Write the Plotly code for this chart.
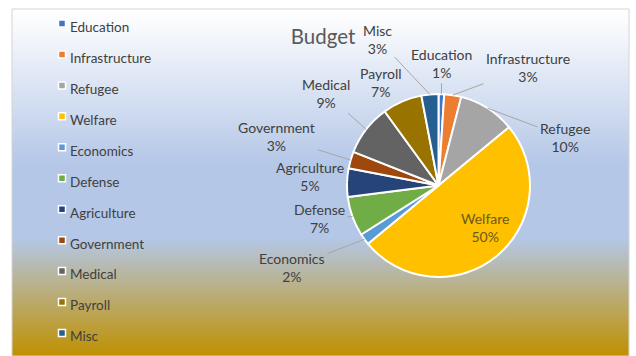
import math
import plotly.graph_objects as go

# Budget shares by department (percent of total)
categories = ["Education", "Infrastructure", "Refugee", "Welfare", "Economics",
              "Defense", "Agriculture", "Government", "Medical", "Payroll", "Misc"]
shares = [1, 3, 10, 50, 2, 7, 5, 3, 9, 7, 3]
slice_colors = ["#4472C4", "#ED7D31", "#A5A5A5", "#FFC000", "#5B9BD5", "#70AD47",
                "#264478", "#9E480E", "#636363", "#997300", "#255E91"]

W, H = 636, 356
FONT = "Lato"
TEXT_GREY = "#404040"

# pie placement in pixels (from top-left of the page)
cx, cy, r = 438.5, 185.5, 91.5

# data-label placement: pixel offset of each label from its slice's rim point
label_offsets = {
    "Education": (0.6, -31), "Infrastructure": (75, -28), "Refugee": (77.5, 29),
    "Economics": (-72.5, 28), "Defense": (-33, 2.5), "Agriculture": (-37, -6.6),
    "Government": (-74, -23), "Medical": (-40, -36), "Payroll": (-21, -19.5),
    "Misc": (-52, -55),
}
inside_labels = {"Welfare": (10, -2)}

# legend entries keep 13.5px text while the legend font sets the row pitch
legend_labels = [f'<span style="font-size:13.5px">{c}</span>' for c in categories]

fig = go.Figure()

# chart-area background: vertical white -> blue -> gold gradient
fig.add_trace(go.Scatter(
    x=[12, 629, 629, 12, 12], y=[9, 9, H, H, 9],
    mode="lines", fill="toself",
    line=dict(color="#d4d4d4", width=1),
    fillgradient=dict(type="vertical", start=9, stop=H,
                      colorscale=[[0.0, "#ffffff"], [0.04, "#fafbfd"],
                                  [0.45, "#b4c7e7"], [0.66, "#b4c7e7"],
                                  [1.0, "#bf9000"]]),
    hoverinfo="skip", showlegend=False,
))

fig.add_trace(go.Pie(
    labels=legend_labels,
    values=shares,
    text=categories,
    sort=False,
    direction="clockwise",
    rotation=0,
    marker=dict(colors=slice_colors, line=dict(color="#ffffff", width=2)),
    textinfo="none",
    hovertemplate="%{text}: %{value}%<extra></extra>",
    domain=dict(x=[(cx - r) / W, (cx + r) / W],
                y=[(H - cy - r) / H, (H - cy + r) / H]),
))

# data labels: name and share, tied to the middle of each slice's rim
total = sum(shares)
annotations = []
start = 0.0
for name, val in zip(categories, shares):
    mid = (start + val / 2) / total * 2 * math.pi  # clockwise from 12 o'clock
    start += val
    pct = round(val / total * 100)
    txt = f"{name}<br>{pct}%"
    if name in inside_labels:
        dx, dy = inside_labels[name]
        annotations.append(dict(
            x=cx + 0.62 * r * math.sin(mid), y=cy - 0.62 * r * math.cos(mid),
            xref="x", yref="y", text=txt, showarrow=False,
            xshift=dx, yshift=-dy,
            font=dict(family=FONT, size=14, color="#6b5a1e")))
    else:
        dx, dy = label_offsets[name]
        annotations.append(dict(
            x=cx + r * math.sin(mid), y=cy - r * math.cos(mid),
            xref="x", yref="y", text=txt, showarrow=True,
            ax=dx, ay=dy, arrowhead=0, arrowwidth=1, arrowcolor="#a6a6a6",
            standoff=0, startstandoff=1,
            font=dict(family=FONT, size=14, color=TEXT_GREY)))

fig.update_layout(
    width=W, height=H,
    margin=dict(l=0, r=0, t=0, b=0),
    paper_bgcolor="#ffffff",
    plot_bgcolor="rgba(0,0,0,0)",
    xaxis=dict(range=[0, W], domain=[0, 1], visible=False, fixedrange=True),
    yaxis=dict(range=[H, 0], domain=[0, 1], visible=False, fixedrange=True),
    font=dict(family=FONT, color=TEXT_GREY),
    title=dict(text="Budget", x=323 / W, xanchor="center", y=1 - 37 / H,
               yanchor="middle", font=dict(family=FONT, size=20.5, color="#595959")),
    legend=dict(x=30 / W, xanchor="left", y=1 - 3 / H, yanchor="top",
                bgcolor="rgba(0,0,0,0)", font=dict(family=FONT, size=21.5, color=TEXT_GREY),
                itemclick=False, itemdoubleclick=False),
    annotations=annotations,
    showlegend=True,
)

# compact legend swatches
post = """
var gd = document.getElementById('{plot_id}');
gd.querySelectorAll('path.legendpie').forEach(function(p) {
  p.setAttribute('d', 'M3.5,3.5H-3.5V-3.5H3.5Z');
  p.setAttribute('transform', 'translate(32,0)');
  p.style.strokeWidth = '1.5px';
});
"""

fig.write_html("out.html", post_script=post)
